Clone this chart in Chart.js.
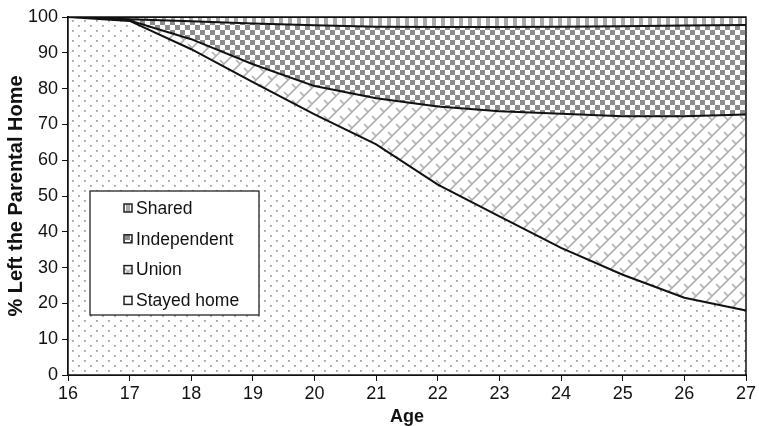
<!DOCTYPE html>
<html>
<head>
<meta charset="utf-8">
<script src="https://cdn.jsdelivr.net/npm/chart.js@4.4.1/dist/chart.umd.min.js"></script>
<style>
  html, body { margin: 0; padding: 0; background: #fff; }
  #wrap { width: 759px; height: 426px; position: relative; }
</style>
</head>
<body>
<div id="wrap"><canvas id="chart"></canvas></div>
<script>
// ages on the x axis
const ages = ["16", "17", "18", "19", "20", "21", "22", "23", "24", "25", "26", "27"];

// share of each group (stacked, %)
const stayedHome  = [100, 98.9, 91.0, 81.8, 72.8, 64.4, 53.2, 44.3, 35.5, 28.0, 21.6, 18.0];
const union       = [0, 0.1, 2.8, 5.0, 7.9, 12.9, 21.8, 29.4, 37.5, 44.3, 50.7, 54.8];
const independent = [0, 0.4, 5.0, 11.4, 17.0, 20.0, 22.2, 23.5, 24.3, 25.1, 25.3, 25.0];
const shared      = [0, 0.6, 1.2, 1.8, 2.3, 2.7, 2.8, 2.8, 2.7, 2.6, 2.4, 2.2];

const yTicks = [0, 10, 20, 30, 40, 50, 60, 70, 80, 90, 100];

const FONT = "'Liberation Sans', Arial, sans-serif";

// --- fill patterns (like the old Excel pattern fills) ---
function makePattern(w, h, draw) {
  const c = document.createElement("canvas");
  c.width = w; c.height = h;
  const g = c.getContext("2d");
  g.fillStyle = "#fff";
  g.fillRect(0, 0, w, h);
  draw(g);
  return c.getContext("2d").createPattern(c, "repeat");
}

const dotsPat = makePattern(12, 10, g => {
  g.fillStyle = "#a0a0a0";
  g.fillRect(0, 0, 1.8, 1.8);
  g.fillRect(6, 5, 1.8, 1.8);
});

const brickPat = makePattern(16, 16, g => {
  g.strokeStyle = "#b0b0b0";
  g.lineWidth = 1.6;
  g.beginPath();
  // long "/" lines
  g.moveTo(0, 16); g.lineTo(16, 0);
  g.moveTo(-8, 8); g.lineTo(8, -8);
  g.moveTo(8, 24); g.lineTo(24, 8);
  // short "\" joints
  g.moveTo(4, 4); g.lineTo(8, 8);
  g.moveTo(12, 12); g.lineTo(16, 16);
  g.moveTo(-4, 12); g.lineTo(0, 16);
  g.stroke();
});

const checkPat = makePattern(10, 10, g => {
  g.fillStyle = "#8c8c8c";
  g.fillRect(0, 0, 5, 5);
  g.fillRect(5, 5, 5, 5);
});

const stripePat = makePattern(9, 8, g => {
  g.fillStyle = "#a8a8a8";
  g.fillRect(0, 0, 4, 8);
});

// frame round the plot + legend box inside the plot
const framePlugin = {
  id: "frame",
  afterDraw(chart) {
    const { ctx, chartArea: a } = chart;
    ctx.save();
    ctx.strokeStyle = "#111";
    ctx.lineWidth = 1.5;
    ctx.strokeRect(a.left, a.top, a.right - a.left, a.bottom - a.top);

    // legend
    const bx = 90, by = 191, bw = 169, bh = 124;
    ctx.fillStyle = "#fff";
    ctx.fillRect(bx, by, bw, bh);
    ctx.lineWidth = 1.2;
    ctx.strokeStyle = "#111";
    ctx.strokeRect(bx, by, bw, bh);
    const items = chart.data.datasets.slice().reverse();
    ctx.font = "17.5px " + FONT;
    ctx.textBaseline = "middle";
    items.forEach((ds, i) => {
      const cy = 208 + i * 30.8;
      ctx.fillStyle = ds.backgroundColor;
      ctx.fillRect(124, cy - 4, 8, 8);
      ctx.strokeStyle = "#222";
      ctx.lineWidth = 1.5;
      ctx.strokeRect(124, cy - 4, 8, 8);
      ctx.fillStyle = "#111";
      ctx.fillText(ds.label, 136, cy + 1);
    });
    ctx.restore();
  }
};

const ctx = document.getElementById("chart").getContext("2d");

const chart = new Chart(ctx, {
  type: "line",
  data: {
    labels: ages,
    datasets: [
      { label: "Stayed home", data: stayedHome, backgroundColor: dotsPat, fill: "origin" },
      { label: "Union", data: union, backgroundColor: brickPat, fill: "-1" },
      { label: "Independent", data: independent, backgroundColor: checkPat, fill: "-1" },
      { label: "Shared", data: shared, backgroundColor: stripePat, fill: "-1" },
    ],
  },
  options: {
    responsive: true,
    maintainAspectRatio: false,
    animation: false,
    layout: { padding: { top: 17, right: 13, left: 0, bottom: 0 } },
    elements: {
      line: { borderColor: "#111", borderWidth: 2, tension: 0 },
      point: { radius: 0 },
    },
    plugins: {
      legend: { display: false },
      tooltip: { enabled: false },
    },
    scales: {
      x: {
        offset: false,
        grid: { drawOnChartArea: false, tickLength: 6, color: "#111", offset: false },
        border: { color: "#111", width: 2 },
        ticks: { color: "#111", font: { family: FONT, size: 18 }, padding: 2, maxRotation: 0 },
        title: { display: true, text: "Age", color: "#111", font: { family: FONT, size: 18, weight: "bold", lineHeight: 1 }, padding: 0 },
        afterFit: s => { s.height = 51; },
      },
      y: {
        stacked: true,
        min: 0,
        max: 100,
        afterBuildTicks: s => { s.ticks = yTicks.map(v => ({ value: v })); },
        grid: { drawOnChartArea: false, tickLength: 6, color: "#111" },
        border: { color: "#111", width: 2 },
        ticks: { color: "#111", font: { family: FONT, size: 18 }, padding: 4 },
        title: { display: true, text: "% Left the Parental Home", color: "#111", font: { family: FONT, size: 20, weight: "bold", lineHeight: 1 }, padding: { top: 6 } },
        afterFit: s => { s.width = 68; },
      },
    },
  },
  plugins: [framePlugin],
});
</script>
</body>
</html>
